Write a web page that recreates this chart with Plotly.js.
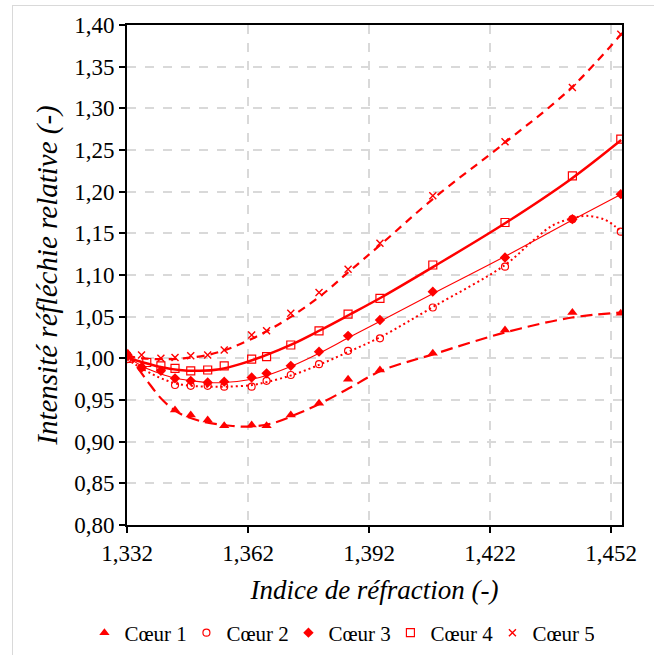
<!DOCTYPE html>
<html>
<head>
<meta charset="utf-8">
<script src="https://cdn.plot.ly/plotly-3.0.1.min.js"></script>
<style>
  html, body { margin: 0; padding: 0; background: #ffffff; }
  #frame { position: absolute; left: 12px; top: 5px; width: 660px; height: 660px; border-left: 1px solid #d9d9d9; border-top: 1px solid #d9d9d9; pointer-events: none; z-index: 5; }
  #chart { position: absolute; left: 0; top: 0; width: 654px; height: 655px; }
</style>
</head>
<body>
<div id="chart"></div>
<div id="frame"></div>
<script>
// ---- measured points ----
const seriesNames = ["Cœur 1", "Cœur 2", "Cœur 3", "Cœur 4", "Cœur 5"];

const coeur1X = [1.3322, 1.3439, 1.3478, 1.3520, 1.3561, 1.3629, 1.3666, 1.3726, 1.3796, 1.3868, 1.3947, 1.4078, 1.4257, 1.4424, 1.4544];
const coeur1Y = [1.006, 0.938, 0.932, 0.926, 0.919, 0.920, 0.919, 0.932, 0.946, 0.975, 0.986, 1.006, 1.034, 1.055, 1.054];

const coeur2X = [1.3320, 1.3356, 1.3439, 1.3478, 1.3520, 1.3561, 1.3629, 1.3666, 1.3726, 1.3796, 1.3868, 1.3947, 1.4078, 1.4257, 1.4424, 1.4544];
const coeur2Y = [0.999, 0.989, 0.968, 0.967, 0.967, 0.966, 0.966, 0.973, 0.980, 0.993, 1.009, 1.024, 1.061, 1.110, 1.167, 1.152];

const coeur3X = [1.3320, 1.3356, 1.3404, 1.3439, 1.3478, 1.3520, 1.3561, 1.3629, 1.3666, 1.3726, 1.3796, 1.3868, 1.3947, 1.4078, 1.4257, 1.4424, 1.4544];
const coeur3Y = [1.003, 0.989, 0.985, 0.976, 0.973, 0.971, 0.972, 0.977, 0.982, 0.991, 1.008, 1.027, 1.046, 1.080, 1.121, 1.167, 1.197];

const coeur4X = [1.3320, 1.3369, 1.3404, 1.3439, 1.3478, 1.3520, 1.3561, 1.3629, 1.3666, 1.3726, 1.3796, 1.3868, 1.3947, 1.4078, 1.4257, 1.4424, 1.4544];
const coeur4Y = [1.000, 0.995, 0.991, 0.988, 0.985, 0.986, 0.991, 0.999, 1.002, 1.016, 1.033, 1.053, 1.072, 1.112, 1.163, 1.219, 1.263];

const coeur5X = [1.3320, 1.3356, 1.3404, 1.3439, 1.3478, 1.3520, 1.3561, 1.3629, 1.3666, 1.3726, 1.3796, 1.3868, 1.3947, 1.4078, 1.4257, 1.4424, 1.4544];
const coeur5Y = [1.003, 1.004, 1.000, 1.001, 1.003, 1.004, 1.010, 1.028, 1.033, 1.054, 1.079, 1.107, 1.138, 1.195, 1.260, 1.325, 1.389];

// ---- trend curves ----
const trend1X = [1.3320, 1.3370, 1.3410, 1.3450, 1.3500, 1.3560, 1.3620, 1.3680, 1.3750, 1.3800, 1.3870, 1.3950, 1.4080, 1.4257, 1.4423, 1.4545];
const trend1Y = [1.007, 0.973, 0.949, 0.934, 0.925, 0.920, 0.918, 0.922, 0.935, 0.946, 0.964, 0.985, 1.005, 1.031, 1.049, 1.055];

const trend2X = [1.3320, 1.3360, 1.3400, 1.3440, 1.3480, 1.3520, 1.3570, 1.3630, 1.3670, 1.3730, 1.3800, 1.3870, 1.3950, 1.4080, 1.4257, 1.4328, 1.4377, 1.4424, 1.4460, 1.4506, 1.4531, 1.4545];
const trend2Y = [0.999, 0.987, 0.977, 0.970, 0.967, 0.966, 0.966, 0.968, 0.972, 0.980, 0.993, 1.008, 1.026, 1.062, 1.112, 1.142, 1.160, 1.168, 1.171, 1.166, 1.158, 1.152];

const trend3X = [1.3320, 1.3360, 1.3400, 1.3440, 1.3480, 1.3520, 1.3560, 1.3630, 1.3670, 1.3730, 1.3800, 1.3870, 1.3950, 1.4080, 1.4260, 1.4424, 1.4545];
const trend3Y = [1.002, 0.990, 0.982, 0.976, 0.973, 0.971, 0.971, 0.975, 0.980, 0.991, 1.007, 1.025, 1.045, 1.078, 1.123, 1.166, 1.197];

const trend4X = [1.3320, 1.3360, 1.3400, 1.3450, 1.3500, 1.3550, 1.3600, 1.3660, 1.3730, 1.3800, 1.3870, 1.3950, 1.4080, 1.4260, 1.4420, 1.4545];
const trend4Y = [1.001, 0.995, 0.990, 0.986, 0.985, 0.987, 0.993, 1.003, 1.017, 1.034, 1.052, 1.073, 1.110, 1.163, 1.215, 1.262];

const trend5X = [1.3320, 1.3360, 1.3410, 1.3460, 1.3520, 1.3580, 1.3660, 1.3730, 1.3800, 1.3870, 1.3950, 1.4080, 1.4260, 1.4420, 1.4545];
const trend5Y = [1.003, 1.000, 0.999, 1.000, 1.004, 1.013, 1.031, 1.051, 1.075, 1.104, 1.137, 1.192, 1.260, 1.324, 1.389];

const red = "#ff0000";

function trend(x, y, dash, width) {
  return { x: x, y: y, type: "scatter", mode: "lines", showlegend: false, hoverinfo: "skip",
           line: { color: red, width: width, dash: dash, shape: "spline", smoothing: 1 } };
}
function pts(name, x, y, marker) {
  return { name: name, x: x, y: y, type: "scatter", mode: "markers", marker: marker };
}

const data = [
  trend(trend1X, trend1Y, "12px,6px", 2.2),
  trend(trend2X, trend2Y, "2px,3px", 2),
  trend(trend3X, trend3Y, "solid", 1.1),
  trend(trend4X, trend4Y, "solid", 2.5),
  trend(trend5X, trend5Y, "8px,6px", 2.2),
  pts(seriesNames[0], coeur1X, coeur1Y, { symbol: "triangle-up", size: 9, color: red }),
  pts(seriesNames[1], coeur2X, coeur2Y, { symbol: "circle-open", size: 7, color: red, line: { width: 1.2, color: red } }),
  pts(seriesNames[2], coeur3X, coeur3Y, { symbol: "diamond", size: 8, color: red }),
  pts(seriesNames[3], coeur4X, coeur4Y, { symbol: "square-open", size: 8, color: red, line: { width: 1.2, color: red } }),
  pts(seriesNames[4], coeur5X, coeur5Y, { symbol: "x-thin-open", size: 7, color: red, line: { width: 1.4, color: red } })
];

const fontFam = "Liberation Serif, DejaVu Serif, serif";

const layout = {
  width: 654, height: 655,
  margin: { l: 127, r: 32, t: 25, b: 130, autoexpand: false },
  paper_bgcolor: "#ffffff", plot_bgcolor: "#ffffff",
  separators: ",.",
  font: { family: fontFam, color: "#000000", size: 22 },
  showlegend: true,
  legend: {
    orientation: "h", x: -0.086, xanchor: "left", y: -0.216, yanchor: "middle",
    font: { family: fontFam, size: 21, color: "#000000" },
    itemwidth: 30, tracegroupgap: 0,
    entrywidth: 57, entrywidthmode: "pixels"
  },
  xaxis: {
    range: [1.332, 1.4547], tick0: 1.332, dtick: 0.03, tickmode: "linear",
    tickformat: ".3f",
    showline: true, linecolor: "#000000", linewidth: 2, mirror: true,
    ticks: "outside", ticklen: 6, tickwidth: 2, tickcolor: "#000000",
    showgrid: true, gridcolor: "#d9d9d9", gridwidth: 2, griddash: "dash",
    zeroline: false,
    tickfont: { family: fontFam, size: 23, color: "#000000" },
    title: { text: "Indice de réfraction (-)", font: { family: fontFam, size: 27, style: "italic", color: "#000000" }, standoff: 16 },
    automargin: false
  },
  yaxis: {
    range: [0.8, 1.4], tick0: 0.8, dtick: 0.05, tickmode: "linear",
    tickformat: ".2f",
    showline: true, linecolor: "#000000", linewidth: 2, mirror: true,
    ticks: "outside", ticklen: 6, tickwidth: 2, tickcolor: "#000000",
    showgrid: true, gridcolor: "#d9d9d9", gridwidth: 2, griddash: "dash",
    zeroline: false,
    tickfont: { family: fontFam, size: 23, color: "#000000" },
    title: { text: "Intensité réfléchie relative (-)", font: { family: fontFam, size: 29, style: "italic", color: "#000000" }, standoff: 8 },
    automargin: false
  }
};

Plotly.newPlot("chart", data, layout, { displayModeBar: false, staticPlot: true });
</script>
</body>
</html>
